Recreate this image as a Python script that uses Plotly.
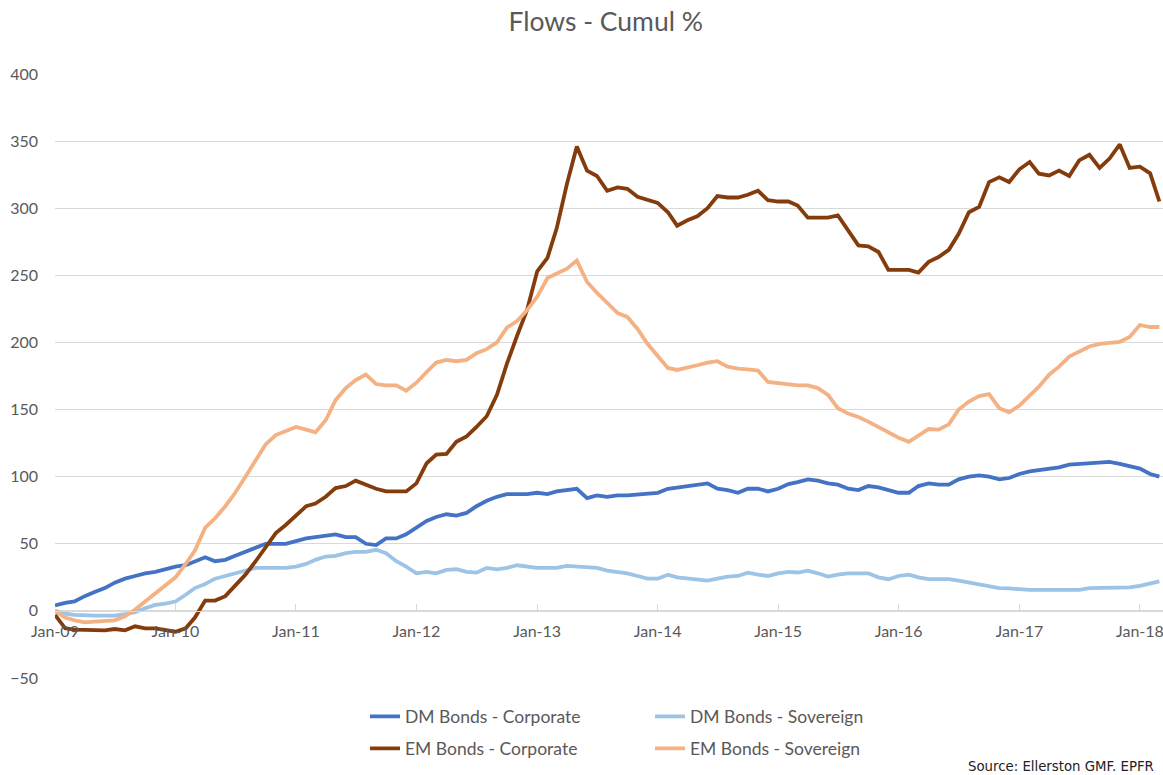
import pandas as pd
import plotly.graph_objects as go

months = pd.date_range("2009-01-01", periods=111, freq="MS")

dm_corp = [4, 6, 7, 11, 14, 17, 21, 24, 26, 28, 29, 31, 33, 34, 37, 40, 37, 38, 41, 44,
           47, 50, 50, 50, 52, 54, 55, 56, 57, 55, 55, 50, 49, 54, 54, 57, 62, 67, 70, 72,
           71, 73, 78, 82, 85, 87, 87, 87, 88, 87, 89, 90, 91, 84, 86, 85, 86, 86, 86.5, 87,
           88, 91, 92, 93, 94, 95, 91, 90, 88, 91, 91, 89, 91, 94.5, 96, 98, 97, 95, 94, 91,
           90, 93, 92, 90, 88, 88, 93, 95, 94, 94, 98, 100, 101, 100, 98, 99, 102, 104, 105, 106,
           107, 109, 109.5, 110, 110, 111, 109.5, 108, 106, 102, 100]

dm_sov = [0, -2, -3, -3.5, -3.5, -3.5, -3.5, -2.5, -1, 2, 4.5, 5.5, 7, 12, 17, 20, 24, 26, 28, 30,
          32, 32, 32, 32, 33, 35, 38, 40.5, 41, 43, 44, 44, 45.5, 43, 37, 33, 28, 29, 28, 30.5,
          31, 29, 28.5, 32, 31, 32, 34, 33, 32, 32, 32, 33.5, 33, 32, 32, 30, 29, 28, 26, 24,
          24, 27, 25, 24, 23, 22.5, 24, 25.5, 26, 28.5, 27, 26, 28, 29, 28.6, 30, 28, 25.5, 27, 28,
          28, 28, 25, 23.6, 26, 27, 25, 23.6, 23.6, 23.6, 22.5, 21, 20, 18, 17, 16.7, 16, 15.7, 15.7, 15.7,
          15.7, 15.7, 15.7, 17, 17, 17, 17, 17.5, 18.7, 20.5, 22]

em_corp = [-3, -13, -14, -14, -14.5, -14.5, -13.5, -14.5, -11.5, -13, -13, -14, -15.5, -13, -5, 7.7, 7.7, 11, 19, 27,
           37, 47, 58, 64, 71, 78, 80, 85, 91.5, 93, 97, 94, 91, 89, 89, 89, 95, 110, 116.5, 117,
           126, 130, 137, 145, 161, 184, 205, 224, 253, 263, 285, 318, 346, 328, 324, 313, 315.5, 314.5, 308.5, 306,
           304, 297, 287, 291, 294, 300, 309, 308, 308, 310, 313, 306, 305, 305, 302, 293, 293, 293, 294.7, 283.5,
           272.3, 271.6, 267.4, 254, 254, 254, 252, 260, 263.6, 269, 281, 297, 301, 319.5, 323, 319.5, 329, 334.4, 325.7, 324.4,
           328, 324, 335.6, 339.8, 330, 337, 347.5, 330, 331, 326, 305]

em_sov = [0, -5, -7, -8.5, -8, -7.5, -7, -4, 1, 7, 13, 19, 25, 35, 45, 62, 69, 78, 88, 100,
          112, 124, 131, 134, 137, 135, 133, 142, 157, 166, 172, 176, 169, 168, 168, 164, 170, 178, 185, 187,
          186, 187, 192, 195, 200, 211, 216, 224, 234, 248, 251, 255, 261, 245, 237, 229, 222, 219, 210, 199,
          190, 181, 179.5, 181, 183, 185, 186, 182, 180.5, 180, 179, 170.6, 169.5, 169, 168, 168, 166, 161, 151, 147,
          144.5, 141, 137, 133, 129, 126, 131, 135.5, 135, 139, 150, 156, 160, 161.5, 151, 148, 153, 160, 167, 176,
          182, 189.5, 193, 197, 199, 199.5, 200.5, 204, 213, 211.5, 211.5]

series_names = ["DM Bonds - Corporate", "DM Bonds - Sovereign",
                "EM Bonds - Corporate", "EM Bonds - Sovereign"]
series_values = [dm_corp, dm_sov, em_corp, em_sov]
series_colors = ["#4472C4", "#9DC3E6", "#843C0C", "#F4B183"]
series_legends = ["legend", "legend", "legend2", "legend2"]

y_ticks = [-50, 0, 50, 100, 150, 200, 250, 300, 350, 400]

FONT = "Lato"
GREY = "#595959"

fig = go.Figure()
for name, vals, col, lg in zip(series_names, series_values, series_colors, series_legends):
    fig.add_trace(go.Scatter(
        x=months, y=vals, mode="lines", name=name,
        line=dict(color=col, width=3.8), legend=lg,
    ))

legend_common = dict(orientation="h", xanchor="left", yanchor="top",
                     entrywidth=240, itemwidth=30,
                     font=dict(family=FONT, size=17.5, color=GREY))

fig.update_layout(
    width=1163, height=775,
    margin=dict(l=55, r=0, t=74, b=97),
    paper_bgcolor="white", plot_bgcolor="white",
    font=dict(family=FONT, color=GREY, size=16),
    title=dict(text="Flows - Cumul %", x=0.497, xref="paper", y=0.972, yanchor="middle",
               font=dict(family=FONT, size=26.5, color=GREY)),
    xaxis=dict(
        range=["2009-01-01", "2018-03-12"],
        anchor="free", position=50 / 450,
        tickformat="%b-%y", dtick="M12", tick0="2009-01-01",
        ticks="inside", ticklen=7, tickcolor="#d9d9d9",
        showline=True, linecolor="#d9d9d9", linewidth=1,
        showgrid=False, zeroline=False,
        tickfont=dict(family=FONT, size=16, color=GREY),
        ticklabelstandoff=6, ticklabeloverflow="allow",
    ),
    yaxis=dict(
        range=[-50, 400], tickvals=y_ticks,
        showgrid=True, gridcolor="#d9d9d9", gridwidth=1,
        zeroline=False, showline=False,
        tickfont=dict(family=FONT, size=16, color=GREY),
        ticklabelstandoff=16,
    ),
    legend=dict(x=0.2798, y=-0.034, **legend_common),
    legend2=dict(x=0.2798, y=-0.087, **legend_common),
    showlegend=True,
)

fig.add_annotation(text="Source: Ellerston GMF. EPFR", xref="paper", yref="paper",
                   x=0.9935, y=-0.147, xanchor="right", yanchor="middle", showarrow=False,
                   font=dict(family="DejaVu Sans", size=13.3, color="#222222"))

fig.write_html("out.html")
